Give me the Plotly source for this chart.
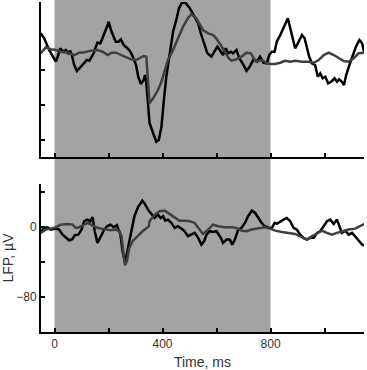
import plotly.graph_objects as go
from plotly.subplots import make_subplots

# ---- data (time in ms, LFP in µV) ----
top_black_t = [-51,-38,-20,-7,5,14,21,33,42,51,58,64,73,83,92,101,110,120,129,137,145,151,159,170,178,188,197,201,209,219,227,237,246,256,264,277,289,302,310,320,330,335,340,349,352,365,377,386,396,405,414,427,439,451,461,472,485,501,519,532,542,554,566,581,593,603,616,624,634,643,653,661,674,684,695,711,723,737,749,761,774,786,795,805,815,823,836,848,858,864,873,882,891,904,916,926,935,943,953,965,975,984,993,1003,1013,1025,1037,1046,1054,1064,1072,1080,1092,1104,1116,1129,1139,1146]
top_black_v = [21.9,16.2,2.9,-4.8,-10.5,-2.9,4.8,0.9,2.9,-0.9,2.1,-2.9,-14.3,-21.1,-18.1,-14.3,-12.3,-8.6,-9.4,-4.8,-0.9,4.8,11.2,10.5,16.2,23.8,31.4,35.2,25.7,18.1,12.3,12.3,15.1,8.6,6.6,2.9,-4.0,-14.3,-27.7,-36.0,-31.4,-25.7,-35.2,-69.1,-80.6,-92.0,-102.0,-100.0,-84.8,-54.3,-27.7,-0.9,23.8,37.2,50.5,57.0,56.9,50.5,40.9,33.4,21.9,10.5,-0.9,-4.8,0.9,6.6,0.9,-2.9,4.8,-0.9,0.9,-0.9,2.9,-6.6,-11.7,-20.8,-16.2,-7.8,-10.5,-4.8,-11.7,-12.3,-2.9,0.9,0.9,12.3,20.0,27.7,35.2,39.1,27.7,14.3,4.8,12.3,20.0,16.2,4.8,-4.8,-12.3,-14.3,-27.7,-23.8,-29.5,-27.7,-35.2,-33.4,-29.5,-33.4,-30.6,-33.4,-37.1,-25.7,-14.3,-4.8,6.6,14.3,10.5,0.9]

top_gray_t = [-51,-32,-14,5,23,48,73,92,110,135,159,178,197,211,227,246,264,283,302,314,330,340,346,352,365,383,396,408,420,439,457,476,494,507,525,538,550,569,587,599,616,631,645,655,674,692,711,727,742,749,768,786,799,817,836,854,873,891,916,941,960,978,997,1015,1034,1052,1071,1089,1108,1126,1146]
top_gray_v = [-0.9,5.9,3.7,2.9,0.9,-0.2,-2.9,-0.2,0.2,2.1,2.9,0.9,-2.9,-0.2,-0.2,-2.9,-5.5,-7.8,-8.6,-6.6,-4.0,-4.8,-27.7,-58.1,-52.3,-42.9,-33.4,-20.0,-8.6,2.9,16.2,29.5,39.1,44.0,39.1,31.4,25.7,21.9,20.0,16.2,8.6,0.9,-6.6,-9.4,-7.8,-4.8,-0.2,-0.9,-8.6,-10.5,-8.6,-12.3,-13.1,-13.1,-11.7,-9.4,-10.5,-9.4,-10.5,-10.5,-11.7,-8.6,-2.9,-0.2,-2.9,-6.6,-9.7,-10.5,-6.6,-0.9,-0.2]

bot_black_t = [-51,-38,-26,-14,5,17,30,42,55,67,75,88,100,110,122,132,141,149,159,169,182,194,207,219,231,244,252,261,268,281,296,308,320,325,334,346,361,371,383,393,402,410,420,433,445,457,470,482,494,507,519,532,544,554,563,575,587,600,616,624,637,649,658,668,680,692,705,717,731,743,755,767,779,795,805,815,823,836,848,860,873,885,897,910,922,935,947,960,972,984,997,1009,1021,1034,1046,1056,1064,1077,1089,1102,1113,1126,1139,1146]
bot_black_v = [-4.6,-0.8,0.0,-2.7,-1.6,-2.7,-8.5,-12.2,-15.2,-13.4,-9.1,-8.5,-2.7,6.9,8.7,6.9,11.4,-4.6,-17.9,-12.2,-3.9,1.1,3.0,0.0,2.3,-8.5,-27.4,-40.8,-29.4,-8.5,12.6,22.1,29.0,30.4,27.0,20.1,14.4,10.6,14.4,10.6,12.6,7.5,8.7,4.9,-0.8,1.1,-1.6,-4.6,-10.3,-8.5,-6.5,-12.2,-19.9,-16.0,-8.5,-4.6,-5.4,-4.6,-12.2,-17.9,-14.2,-14.2,-19.9,-14.2,-2.7,-0.8,4.9,12.6,19.0,16.3,10.6,4.9,1.1,-0.8,-0.8,4.9,3.8,6.9,8.7,10.6,6.9,-0.8,-2.7,-8.5,-12.2,-14.2,-12.2,-12.2,-6.5,-4.6,1.1,6.9,8.7,3.8,8.7,1.1,-6.5,-3.9,-8.5,-6.5,-10.3,-16.0,-19.9,-21.0]

bot_gray_t = [-51,-32,-14,5,23,48,67,79,92,110,122,135,153,172,190,209,227,240,248,256,261,268,277,289,308,326,349,352,371,389,408,427,445,463,482,501,519,532,550,569,587,606,631,655,674,692,711,729,755,779,799,817,842,867,891,916,935,953,972,990,1009,1027,1046,1064,1089,1113,1132,1150]
bot_gray_v = [-6.5,-2.7,-1.6,0.0,3.0,3.8,3.0,-0.8,0.0,3.0,4.9,3.0,0.0,-1.6,-2.7,-3.4,-2.7,-4.6,-10.3,-33.1,-43.4,-38.9,-23.7,-16.0,-10.3,-4.6,1.1,6.9,14.4,18.3,19.0,15.2,10.6,7.5,7.5,6.9,4.9,-0.8,-7.7,-2.7,3.0,1.1,0.0,0.0,-0.8,-3.9,-4.6,-2.7,-1.6,0.0,-1.6,-3.9,-5.4,-6.5,-7.7,-11.4,-14.2,-10.3,-6.5,-3.9,-6.5,-8.5,-6.5,-4.6,-2.7,-1.6,1.5,4.1]

stim_on = 0
stim_off = 800
x_range = [-50, 1146]
top_range = [-119.4, 57.7]
bot_range = [-120, 49.5]
x_tickvals = [0, 200, 400, 600, 800, 1000]
x_ticktext = ["0", "", "400", "", "800", ""]
top_tickvals = [-100, -60, -20]
bot_tickvals = [-80, -40, 0, 40]
bot_ticktext = ["\u221280", "", "0", ""]

BLACK = "#000000"
GRAY = "#3f3f3f"
FONT = "Liberation Sans, Arial, sans-serif"

fig = make_subplots(rows=2, cols=1, shared_xaxes=False, vertical_spacing=0.08)

fig.add_trace(go.Scatter(x=top_black_t, y=top_black_v, mode="lines",
                         line=dict(color=BLACK, width=2.5)), row=1, col=1)
fig.add_trace(go.Scatter(x=top_gray_t, y=top_gray_v, mode="lines",
                         line=dict(color=GRAY, width=2.5)), row=1, col=1)
fig.add_trace(go.Scatter(x=bot_black_t, y=bot_black_v, mode="lines",
                         line=dict(color=BLACK, width=2.5)), row=2, col=1)
fig.add_trace(go.Scatter(x=bot_gray_t, y=bot_gray_v, mode="lines",
                         line=dict(color=GRAY, width=2.5)), row=2, col=1)

H = 370
plot_top, plot_bot = 2, 332
ph = plot_bot - plot_top
top_dom = [(plot_bot - 157) / ph, 1.0]
bot_dom = [0.0, (plot_bot - 184) / ph]

fig.add_shape(type="rect", xref="x", yref="paper", x0=stim_on, x1=stim_off,
              y0=0, y1=(plot_bot) / ph, fillcolor="#a3a3a3", line=dict(width=0),
              layer="below")

axis_common = dict(showline=True, linecolor="black", linewidth=2, ticks="inside",
                   ticklen=4, tickwidth=1.5, tickcolor="black", showgrid=False,
                   zeroline=False, mirror=False, automargin=False)

fig.update_xaxes(range=x_range, tickvals=x_tickvals, showticklabels=False,
                 domain=[0, 1], **axis_common, row=1, col=1)
fig.update_xaxes(range=x_range, tickvals=x_tickvals, ticktext=x_ticktext,
                 domain=[0, 1], title=dict(text="Time, ms", standoff=11),
                 **axis_common, row=2, col=1)
fig.update_yaxes(range=top_range, tickvals=top_tickvals, showticklabels=False,
                 domain=top_dom, **axis_common, row=1, col=1)
fig.update_yaxes(range=bot_range, tickvals=bot_tickvals, ticktext=bot_ticktext,
                 domain=bot_dom, title=dict(text="LFP, \u00b5V", standoff=4),
                 **axis_common, row=2, col=1)

fig.update_layout(width=367, height=H, margin=dict(l=41, r=3, t=plot_top, b=H - plot_bot),
                  paper_bgcolor="white", plot_bgcolor="rgba(0,0,0,0)",
                  showlegend=False,
                  font=dict(family=FONT, size=12, color="#333333"))

fig.write_html("out.html", config={"displayModeBar": False},
               post_script="document.body.style.margin='0';")
